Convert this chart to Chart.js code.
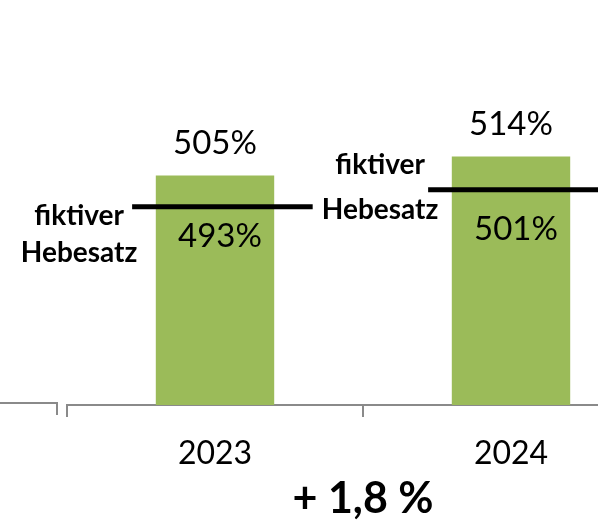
<!DOCTYPE html>
<html><head><meta charset="utf-8">
<script src="https://cdn.jsdelivr.net/npm/chart.js@4"></script>
<style>
html,body{margin:0;padding:0;overflow:hidden;background:#fff;width:598px;height:521px}
#wrap{position:absolute;left:0;top:0;width:700px;height:521px}
</style>
</head><body><div id="wrap"><canvas id="c" width="700" height="521"></canvas></div>
<script>
// ---- data ----
const years = ['2023', '2024'];
const hebesatz = [505, 514];
const fiktiverHebesatz = [493, 501];
const fiktivLabel = ['fiktiver', 'Hebesatz'];
const changeLabel = '+ 1,8 %';
const yMin = 396, yMax = 584;

// ---- styles ----
const FONT = 'Lato, "Open Sans", sans-serif';
const BAR = '#9BBB59';
const AXIS = '#8a8a8a';
const S = {
  lineDy: 6, lineLeft: 0.28, lineRight: 0.33, lineWidth: 5,
  topDy: -21, innerDx: 5, innerDy: [40, 50],
  textDx: [-53, -48], text1Dy: [18, -16], text2Dy: [55, 29]
};

const annot = {
  id: 'annot',
  afterDatasetsDraw(chart) {
    const ctx = chart.ctx, xs = chart.scales.x, ys = chart.scales.y, ca = chart.chartArea;
    const catW = xs.width / years.length;
    ctx.save();
    // fragment of neighbouring chart's axis
    ctx.strokeStyle = AXIS; ctx.lineWidth = 2;
    ctx.beginPath();
    ctx.moveTo(0, ca.bottom - 2); ctx.lineTo(ca.left - 10, ca.bottom - 2); ctx.lineTo(ca.left - 10, ca.bottom + 10);
    ctx.stroke();
    years.forEach((yr, i) => {
      const cx = xs.getPixelForValue(i);
      const top = ys.getPixelForValue(hebesatz[i]);
      ctx.fillStyle = '#000'; ctx.textAlign = 'center'; ctx.textBaseline = 'alphabetic';
      ctx.font = '33px ' + FONT;
      ctx.fillText(hebesatz[i] + '%', cx, top + S.topDy);
      const ly = ys.getPixelForValue(fiktiverHebesatz[i]) + S.lineDy;
      const x0 = cx - catW * S.lineLeft, x1 = cx + catW * S.lineRight;
      ctx.strokeStyle = '#000'; ctx.lineWidth = S.lineWidth;
      ctx.beginPath(); ctx.moveTo(x0, ly); ctx.lineTo(x1, ly); ctx.stroke();
      ctx.fillText(fiktiverHebesatz[i] + '%', cx + S.innerDx, ly + S.innerDy[i]);
      ctx.font = 'bold 28px ' + FONT;
      ctx.fillText(fiktivLabel[0], x0 + S.textDx[i], ly + S.text1Dy[i]);
      ctx.fillText(fiktivLabel[1], x0 + S.textDx[i], ly + S.text2Dy[i]);
    });
    ctx.restore();
  }
};

Chart.defaults.font.family = FONT;
Chart.defaults.color = '#000';
new Chart(document.getElementById('c'), {
  type: 'bar',
  data: {
    labels: years,
    datasets: [{
      data: hebesatz,
      backgroundColor: BAR,
      borderWidth: 0,
      barPercentage: 0.4,
      categoryPercentage: 1.0
    }]
  },
  options: {
    responsive: false,
    animation: false,
    devicePixelRatio: 1,
    layout: { padding: { left: 67, right: 41, top: 9, bottom: -4 } },
    plugins: { legend: { display: false }, tooltip: { enabled: false } },
    scales: {
      x: {
        grid: { drawOnChartArea: false, drawTicks: true, tickLength: 12, color: AXIS, lineWidth: 2, offset: true },
        border: { display: true, color: AXIS, width: 2 },
        ticks: { font: { size: 32 }, color: '#000', padding: 17, maxRotation: 0 },
        title: { display: true, text: changeLabel, font: { size: 43, weight: 'bold' }, color: '#000', padding: { top: -16, bottom: 0 } }
      },
      y: { display: false, min: yMin, max: yMax }
    }
  },
  plugins: [annot]
});
</script>
</body></html>
